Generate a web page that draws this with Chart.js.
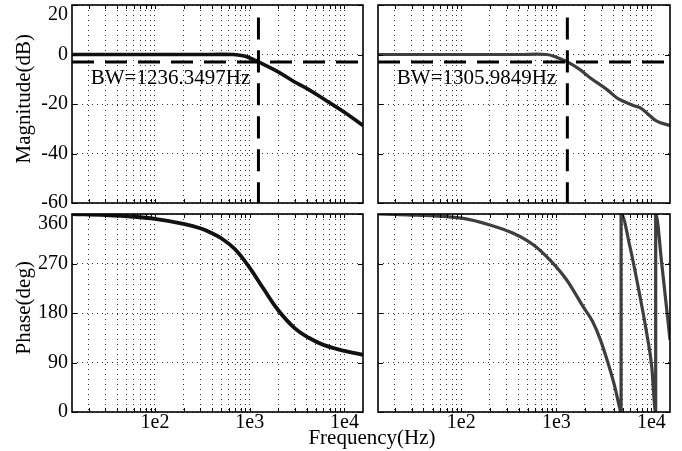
<!DOCTYPE html>
<html>
<head>
<meta charset="utf-8">
<script src="https://cdn.jsdelivr.net/npm/chart.js@4/dist/chart.umd.min.js"></script>
<style>
  html, body { margin: 0; padding: 0; background: #fff; }
  #wrap { position: relative; width: 682px; height: 451px; overflow: hidden; background: #fff; }
  canvas { position: absolute; }
  #xtitle { position: absolute; left: 272px; width: 200px; top: 427px; text-align: center;
            font: 21px/21px "Liberation Serif", "Times New Roman", serif; color: #000; }
</style>
</head>
<body>
<div id="wrap">
  <canvas id="tl" width="368" height="208" style="left:0;top:0"></canvas>
  <canvas id="tr" width="302" height="208" style="left:373px;top:0"></canvas>
  <canvas id="bl" width="368" height="242" style="left:0;top:209px"></canvas>
  <canvas id="br" width="302" height="242" style="left:373px;top:209px"></canvas>
  <div id="xtitle">Frequency(Hz)</div>
</div>
<script>
// ---------- data ----------
const xRange = [13.3, 15700];
const xGridValues = [20, 30, 40, 50, 60, 70, 80, 90, 100, 200, 300, 400, 500, 600, 700, 800, 900,
                     1000, 2000, 3000, 4000, 5000, 6000, 7000, 8000, 9000, 10000];
const magTicks = [-60, -40, -20, 0, 20];
const phaseTicks = [0, 90, 180, 270, 360];

const cutoffDb = -3;
const bwLineTop = 15;
const bwLeft = 1236.3497;
const bwRight = 1305.9849;
const bwLabelLeft = 'BW=1236.3497Hz';
const bwLabelRight = 'BW=1305.9849Hz';

const magLeftFreq = [13.3, 300, 667, 791, 931, 1236, 1932, 2892, 4160, 6510, 10160, 15700];
const magLeftDb   = [0, 0, 0, -0.3, -0.9, -3, -6.7, -10.8, -14.1, -18.8, -23.5, -28.7];

const magRightFreq = [13.3, 400, 793, 1016, 1306, 1775, 2261, 3388, 4318, 5070, 6460, 7590, 8930, 11380, 15700];
const magRightDb   = [0, 0, 0, -1.2, -3, -6.1, -9.4, -14.1, -17.5, -18.9, -20.6, -21.5, -23.6, -26.9, -28.7];

const phaseLeftFreq = [13.3, 30, 60, 100, 200, 300, 400, 500, 700, 1000, 1400, 2000, 3000, 4200, 6000, 10000, 15700];
const phaseLeftDeg  = [360, 358, 355, 351, 342, 334, 325, 316, 296, 262, 224, 185, 152, 135, 122, 111, 104];

const phaseRightFreq = [13.3, 22.7, 105, 200, 352, 572, 858, 1286, 1923, 2400, 2884, 3499, 4150, 4600, 4800,
                        4800, 5957, 7590, 8930, 10090, 10920, 11100, 11100, 12850, 15700];
const phaseRightDeg  = [360, 359, 352, 340, 325, 304, 276, 240, 191, 165, 133, 89, 44, 10, 0,
                        360, 300, 210, 143, 82, 4, 0, 360, 270, 131];

// ---------- helpers ----------
const FONT = '"Liberation Serif", "Times New Roman", serif';
Chart.defaults.font.family = FONT;
Chart.defaults.color = '#000';
const gridColor = 'rgba(0,0,0,0.8)';

const zip = (xs, ys) => xs.map((x, i) => ({ x: x, y: ys[i] }));

function noPad(s) { s.paddingTop = 0; s.paddingBottom = 0; s.paddingLeft = 0; s.paddingRight = 0; }

const framePlugin = {
  id: 'frame',
  afterDraw(chart, args, opts) {
    const { ctx, chartArea: a, scales } = chart;
    const xs = scales.x, ys = scales.y;
    ctx.save();
    ctx.strokeStyle = '#000';
    ctx.lineWidth = 1;
    ctx.beginPath();
    xs.ticks.forEach(t => {
      const p = Math.round(xs.getPixelForValue(t.value)) + 0.5;
      ctx.moveTo(p, a.bottom); ctx.lineTo(p, a.bottom - 4);
      ctx.moveTo(p, a.top); ctx.lineTo(p, a.top + 4);
    });
    ys.ticks.forEach(t => {
      const p = Math.round(ys.getPixelForValue(t.value)) + 0.5;
      ctx.moveTo(a.left, p); ctx.lineTo(a.left + 5, p);
      ctx.moveTo(a.right, p); ctx.lineTo(a.right - 5, p);
    });
    ctx.stroke();
    ctx.lineWidth = 1.6;
    ctx.strokeRect(a.left, a.top, a.right - a.left, a.bottom - a.top);
    if (opts && opts.text) {
      ctx.font = '21px ' + FONT;
      ctx.fillStyle = '#000';
      ctx.textBaseline = 'alphabetic';
      ctx.textAlign = 'left';
      ctx.fillText(opts.text, xs.getPixelForValue(opts.x), ys.getPixelForValue(opts.y));
    }
    ctx.restore();
  }
};

function xScale(showLabels, height) {
  return {
    type: 'logarithmic', min: xRange[0], max: xRange[1],
    afterBuildTicks: s => { s.ticks = xGridValues.map(v => ({ value: v })); },
    afterFit: s => { s.height = height; noPad(s); },
    grid: { color: gridColor, lineWidth: 1, drawTicks: false },
    border: { display: false, dash: [1, 4] },
    ticks: {
      display: showLabels, autoSkip: false, maxRotation: 0, minRotation: 0, padding: 1,
      font: { size: 20, lineHeight: 1 },
      callback: v => {
        const e = Math.log10(v);
        return Math.abs(e - Math.round(e)) < 1e-9 ? '1e' + Math.round(e) : '';
      }
    }
  };
}

function yScale(tickVals, showLabels, width, title) {
  return {
    type: 'linear', min: tickVals[0], max: tickVals[tickVals.length - 1],
    afterBuildTicks: s => { s.ticks = tickVals.map(v => ({ value: v })); },
    afterFit: s => { s.width = width; noPad(s); },
    grid: { color: gridColor, lineWidth: 1, drawTicks: false },
    border: { display: false, dash: [1, 4] },
    ticks: {
      display: showLabels, autoSkip: false, padding: 4, font: { size: 20, lineHeight: 1 },
      callback: v => v === tickVals[tickVals.length - 1] ? ['', String(v)] : String(v)
    },
    title: title ? { display: true, text: title, font: { size: 21 }, padding: { top: 12, bottom: 0 } }
                 : { display: false }
  };
}

function smooth(data, color, width) {
  return { data: data, borderColor: color, borderWidth: width, pointRadius: 0,
           tension: 0.4, fill: false, borderCapStyle: 'butt' };
}
function wrapped(data, color, width) {
  return { data: data, borderColor: color, borderWidth: width, pointRadius: 0,
           cubicInterpolationMode: 'monotone', fill: false, borderJoinStyle: 'miter' };
}
function dashed(data) {
  return { data: data, borderColor: '#000', borderWidth: 3, pointRadius: 0, tension: 0,
           borderDash: [22, 11], fill: false };
}

function make(id, datasets, xs, ys, padding, frameOpts) {
  return new Chart(document.getElementById(id), {
    type: 'line',
    data: { datasets: datasets },
    options: {
      responsive: false, animation: false, parsing: true,
      layout: { padding: padding },
      plugins: { legend: { display: false }, tooltip: { enabled: false }, frame: frameOpts || {} },
      scales: { x: xs, y: ys }
    },
    plugins: [framePlugin]
  });
}

const leftColor = '#111111';
const rightColor = '#3e3e3e';

make('tl', [
  dashed(zip(xRange, [cutoffDb, cutoffDb])),
  dashed(zip([bwLeft, bwLeft], [bwLineTop, magTicks[0]])),
  smooth(zip(magLeftFreq, magLeftDb), leftColor, 3.6)
], xScale(false, 0), yScale(magTicks, true, 72, '  Magnitude(dB)'),
   { left: 0, top: 5, right: 5, bottom: 5 },
   { text: bwLabelLeft, x: 21, y: -11.8 });

make('tr', [
  dashed(zip(xRange, [cutoffDb, cutoffDb])),
  dashed(zip([bwRight, bwRight], [bwLineTop, magTicks[0]])),
  smooth(zip(magRightFreq, magRightDb), rightColor, 3.2)
], xScale(false, 0), yScale(magTicks, false, 0, null),
   { left: 5, top: 5, right: 5, bottom: 5 },
   { text: bwLabelRight, x: 21, y: -11.8 });

make('bl', [
  smooth(zip(phaseLeftFreq, phaseLeftDeg), leftColor, 3.8)
], xScale(true, 39), yScale(phaseTicks, true, 72, '  Phase(deg)'),
   { left: 0, top: 5, right: 5, bottom: 0 });

make('br', [
  wrapped(zip(phaseRightFreq, phaseRightDeg), rightColor, 3.2)
], xScale(true, 39), yScale(phaseTicks, false, 0, null),
   { left: 5, top: 5, right: 5, bottom: 0 });
</script>
</body>
</html>
